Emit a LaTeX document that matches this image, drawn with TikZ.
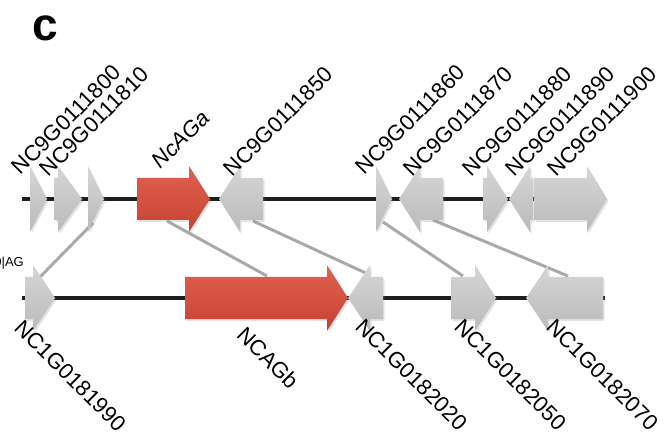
\documentclass[tikz,border=0pt]{standalone}
\usepackage{fontspec}
\setmainfont{Liberation Sans}
\usetikzlibrary{shadows}

\definecolor{redtop}{RGB}{224,98,82}
\definecolor{redbot}{RGB}{198,66,50}
\definecolor{graytop}{RGB}{214,214,214}
\definecolor{graybot}{RGB}{186,186,186}
\definecolor{linkgray}{RGB}{168,170,170}
\definecolor{chromblack}{RGB}{30,30,30}

\newcommand\genefont{\fontsize{22}{24}\selectfont}

% forward gene: style, start x, head base x, tip x, axis y
\newcommand\fwdgene[5]{%
  \path[#1] (#2,#5-21) -- (#3,#5-21) -- (#3,#5-33) -- (#4,#5)
    -- (#3,#5+33) -- (#3,#5+21) -- (#2,#5+21) -- cycle;}
% reverse gene: style, tip x, head base x, end x, axis y
\newcommand\revgene[5]{%
  \path[#1] (#4,#5-21) -- (#3,#5-21) -- (#3,#5-33) -- (#2,#5)
    -- (#3,#5+33) -- (#3,#5+21) -- (#4,#5+21) -- cycle;}

\tikzset{
  chrom/.style={line width=3.5pt, color=chromblack},
  link/.style={line width=3pt, color=linkgray},
  shade/.style={drop shadow={opacity=0.22, shadow xshift=1.5pt, shadow yshift=-2pt}},
  graygene/.style={shade, top color=graytop, bottom color=graybot},
  redgene/.style={shade, top color=redtop, bottom color=redbot},
  toplabel/.style={rotate=45, anchor=south west, inner sep=0pt, font=\genefont},
  botlabel/.style={rotate=-45, anchor=north west, inner sep=0pt, font=\genefont},
}

\begin{document}
\begin{tikzpicture}[x=1pt, y=-1pt]
\useasboundingbox (0,0) rectangle (669,438);

% panel letter and clipped track label
\node[anchor=base west, inner sep=0pt, font=\fontsize{46}{50}\selectfont\bfseries] (panel) at (32,41) {c};
\node[anchor=base east, inner sep=0pt, font=\fontsize{13}{15}\selectfont] (track) at (24,266) {0|AG};

% chromosome segments
\coordinate (chrA0) at (22,199);
\coordinate (chrA1) at (535,199);
\coordinate (chrB0) at (22,298);
\coordinate (chrB1) at (605,298);
\draw[chrom] (chrA0) -- (chrA1);
\draw[chrom] (chrB0) -- (chrB1);

% homology links (upper gene -> lower gene)
\coordinate (a3) at (93,223);   \coordinate (b1) at (40,277);
\coordinate (a4) at (167,221);  \coordinate (b2) at (267,276);
\coordinate (a5) at (253,221);  \coordinate (b3) at (370,275);
\coordinate (a6) at (383,222);  \coordinate (b4) at (463,276);
\coordinate (a7) at (433,220);  \coordinate (b5) at (568,276);
\draw[link] (a3) -- (b1);
\draw[link] (a4) -- (b2);
\draw[link] (a5) -- (b3);
\draw[link] (a6) -- (b4);
\draw[link] (a7) -- (b5);

% upper locus
\fwdgene{graygene}{30}{30}{47}{199}
\fwdgene{graygene}{54}{58}{82}{199}
\fwdgene{graygene}{88}{88}{104}{199}
\fwdgene{redgene}{137}{189}{210}{199}
\revgene{graygene}{219}{240}{263}{199}
\fwdgene{graygene}{376}{376}{392}{199}
\revgene{graygene}{399}{420}{443}{199}
\fwdgene{graygene}{483}{487}{508}{199}
\revgene{graygene}{509}{530}{533}{199}
\fwdgene{graygene}{534}{587}{607}{199}

% lower locus
\fwdgene{graygene}{25}{33}{55}{298}
\fwdgene{redgene}{185}{327}{348}{298}
\revgene{graygene}{348}{370}{383}{298}
\fwdgene{graygene}{451}{475}{496}{298}
\revgene{graygene}{526}{548}{603}{298}

% upper labels
\node[toplabel] (l1) at (21,176) {NC9G0111800};
\node[toplabel] (l2) at (49,178) {NC9G0111810};
\node[toplabel] (l3) at (161,170) {\itshape NcAGa};
\node[toplabel] (l4) at (233,178) {NC9G0111850};
\node[toplabel] (l5) at (365,176) {NC9G0111860};
\node[toplabel] (l6) at (413,178) {NC9G0111870};
\node[toplabel] (l7) at (472,178) {NC9G0111880};
\node[toplabel] (l8) at (515,178) {NC9G0111890};
\node[toplabel] (l9) at (557,178) {NC9G0111900};

% lower labels
\node[botlabel] (m1) at (24,318) {NC1G0181990};
\node[botlabel] (m2) at (247,325) {NCAGb};
\node[botlabel] (m3) at (365,317) {NC1G0182020};
\node[botlabel] (m4) at (464,317) {NC1G0182050};
\node[botlabel] (m5) at (556,317) {NC1G0182070};
\end{tikzpicture}
\end{document}
